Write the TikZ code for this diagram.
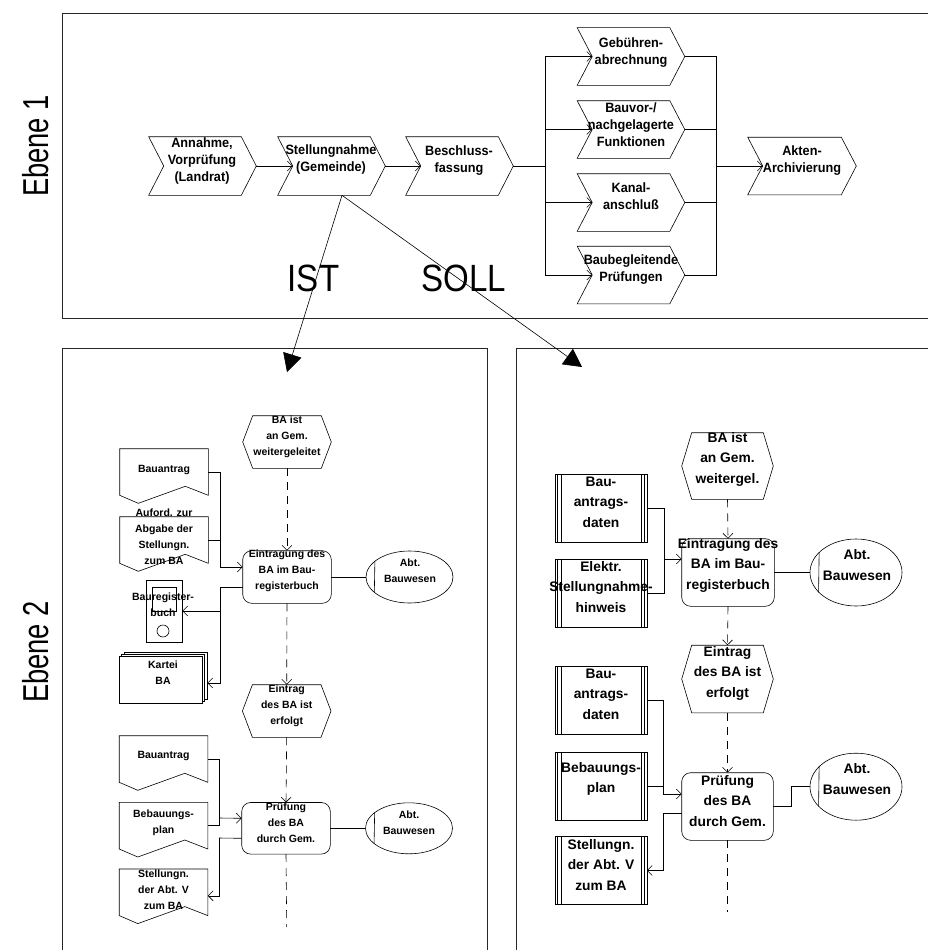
\documentclass[tikz,border=0pt]{standalone}
\usepackage{fontspec}
\setmainfont{Liberation Sans}
\newfontfamily\condfont{Liberation Sans}[FakeStretch=0.94]
\newfontfamily\titlefont{Liberation Sans}[FakeStretch=0.87]
\newfontfamily\levelfont{Liberation Sans}[FakeStretch=0.76]
\usetikzlibrary{arrows.meta,shapes.geometric}

% outlines drawn around empty, fixed-size nodes
\newcommand\drawchev[1]{\draw (#1.north west) -- ([xshift=-15pt]#1.north east) -- (#1.east) -- ([xshift=-15pt]#1.south east) -- (#1.south west) -- ([xshift=15pt]#1.west) -- cycle;}
\newcommand\drawevent[1]{\draw ([xshift=10pt]#1.north west) -- ([xshift=-10pt]#1.north east) -- (#1.east) -- ([xshift=-10pt]#1.south east) -- ([xshift=10pt]#1.south west) -- (#1.west) -- cycle;}
\newcommand\drawdoc[1]{\draw (#1.south west) -- (#1.north west) -- (#1.north east) -- (#1.south east) -- ++(-23,-9) -- ++(-47,17) -- cycle;}
\newcommand\drawstore[1]{\draw (#1.north west) rectangle (#1.south east);
  \foreach \d in {2.5,6}{\draw ([xshift=\d pt]#1.north west) -- ([xshift=\d pt]#1.south west);
    \draw ([xshift=-\d pt]#1.north east) -- ([xshift=-\d pt]#1.south east);}}
\newcommand\drawfunc[1]{\draw[rounded corners=9pt] (#1.north west) rectangle (#1.south east);}
\newcommand\draworg[2]{\draw (#1.center) ellipse [x radius=#2/2, y radius=\csname orgh#1\endcsname/2];}

\begin{document}
\begin{tikzpicture}[x=1pt,y=-1pt,line width=0.6pt,
  shp/.style args={#1x#2}{inner sep=0pt,minimum width=#1pt,minimum height=#2pt},
  ctext/.style={align=center,inner sep=0pt,font=\condfont\bfseries\fontsize{13.5}{17}\selectfont},
  ltext/.style={align=center,inner sep=0pt,font=\bfseries\fontsize{10.5}{16}\selectfont},
  rtext/.style={align=center,inner sep=0pt,font=\bfseries\fontsize{13.8}{20.5}\selectfont},
  orgunit/.style={draw,ellipse,inner sep=0pt},
  conn/.style={-{Straight Barb[length=5pt,width=10pt]}},
  flow/.style={dash pattern=on 8pt off 6pt},
  flowarr/.style={flow,-{Straight Barb[length=5pt,width=10pt]}},
  panel/.style={line width=0.8pt,draw=black!85},
  bigarrow/.style={-{Triangle[length=18pt,width=19pt]}}]

\useasboundingbox (0,0) rectangle (928,950);

% ---------------- panels and level labels ----------------
\draw[panel] (62,13) rectangle (940,318);
\draw[panel] (62,348) rectangle (487,960);
\draw[panel] (516,348) rectangle (940,960);

\node[rotate=90,font=\levelfont\fontsize{36}{40}\selectfont] (lvl1) at (36,146) {Ebene 1};
\node[rotate=90,font=\levelfont\fontsize{36}{40}\selectfont] (lvl2) at (36,652) {Ebene 2};

% ---------------- level 1: process chain ----------------
\node[shp=107x58] (annahme) at (202.5,166) {}; \drawchev{annahme}
\node[shp=107x58] (stell) at (331.5,166) {}; \drawchev{stell}
\node[shp=107x58] (besch) at (459.5,166) {}; \drawchev{besch}
\node[shp=107x57] (geb) at (631,56.5) {}; \drawchev{geb}
\node[shp=107x57] (bauvor) at (631,129.5) {}; \drawchev{bauvor}
\node[shp=107x57] (kanal) at (631,202.5) {}; \drawchev{kanal}
\node[shp=107x57] (baubeg) at (631,275) {}; \drawchev{baubeg}
\node[shp=108x57] (akten) at (802,166) {}; \drawchev{akten}

\node[ctext] (annahme-t) at (202,161) {Annahme,\\Vorprüfung\\(Landrat)};
\node[ctext] (stell-t) at (331,160) {Stellungnahme\\(Gemeinde)};
\node[ctext] (besch-t) at (459,160.5) {Beschluss-\\fassung};
\node[ctext] (geb-t) at (631,52.5) {Gebühren-\\abrechnung};
\node[ctext] (bauvor-t) at (631,125) {Bauvor-/\\nachgelagerte\\Funktionen};
\node[ctext] (kanal-t) at (631,196) {Kanal-\\anschluß};
\node[ctext] (baubeg-t) at (631,269.5) {Baubegleitende\\Prüfungen};
\node[ctext] (akten-t) at (802,160.5) {Akten-\\Archivierung};

\coordinate (busL) at (545,166);
\coordinate (busR) at (716,166);
\draw[conn] (annahme.east) -- ([xshift=15pt]stell.west);
\draw[conn] (stell.east) -- ([xshift=15pt]besch.west);
\draw (besch.east) -- (busL);
\foreach \n in {geb,bauvor,kanal,baubeg}{
  \draw[conn] (busL) |- ([xshift=15pt]\n.west);
  \draw (\n.east) -| (busR);}
\draw[conn] (busR) -- ([xshift=15pt]akten.west);

% IST / SOLL refinements
\coordinate (istEnd) at (287,372);
\coordinate (sollEnd) at (582,367);
\draw[bigarrow] ([xshift=10.5pt]stell.south) -- (istEnd);
\draw[bigarrow] ([xshift=10.5pt]stell.south) -- (sollEnd);
\node[font=\titlefont\fontsize{38}{40}\selectfont] (ist) at (313.5,278.5) {IST};
\node[font=\titlefont\fontsize{38}{40}\selectfont] (soll) at (463.5,278.5) {SOLL};

% ---------------- level 2, IST ----------------
\node[shp=88x52] (e1) at (287,442) {}; \drawevent{e1}
\node[ltext] (e1-t) at (287,437) {BA ist\\an Gem.\\weitergeleitet};

\node[shp=88x52] (f1) at (287,577) {}; \drawfunc{f1}
\node[ltext] (f1-t) at (287,571) {Eintragung des\\BA im Bau-\\registerbuch};

\node[orgunit,shp=87x52] (o1) at (409.5,577) {};
\draw (o1.155.4) -- (o1.204.6);
\node[ltext] (o1-t) at (410,571) {Abt.\\Bauwesen};

\node[shp=88x46] (d1) at (164,472) {}; \drawdoc{d1}
\node[ltext] (d1-t) at (164,470) {Bauantrag};
\node[shp=88x46] (d2) at (164,540) {}; \drawdoc{d2}
\node[ltext] (d2-t) at (164,537) {Auford. zur\\Abgabe der\\Stellungn.\\zum BA};

\node[shp=36x62,draw] (breg) at (164,611) {};
\draw ([shift={(-12,-24)}]breg.center) rectangle ([shift={(12,0)}]breg.center);
\draw ([shift={(-1,20)}]breg.center) circle[radius=6pt];
\node[ltext] (breg-t) at (163,605) {Bauregister-\\buch};

\draw[fill=white] (124,652) rectangle (207,699);
\draw[fill=white] (121.5,654) rectangle (204.5,701);
\node[shp=83x47,draw,fill=white] (kartei) at (160.5,679.5) {};
\node[ltext] (kartei-t) at (163,672.5) {Kartei\\BA};

\node[shp=88x52] (e2) at (286.7,711) {}; \drawevent{e2}
\node[ltext] (e2-t) at (286.7,706) {Eintrag\\des BA ist\\erfolgt};

\node[shp=88x51] (f2) at (286,828.3) {}; \drawfunc{f2}
\node[ltext] (f2-t) at (286,822.5) {Prüfung\\des BA\\durch Gem.};

\node[orgunit,shp=87x51] (o2) at (409,828.3) {};
\draw (o2.155.4) -- (o2.204.6);
\node[ltext] (o2-t) at (409,823) {Abt.\\Bauwesen};

\node[shp=88x46] (d3) at (163.5,759) {}; \drawdoc{d3}
\node[ltext] (d3-t) at (163.5,756) {Bauantrag};
\node[shp=88x46] (d4) at (163.5,825.7) {}; \drawdoc{d4}
\node[ltext] (d4-t) at (163.5,823) {Bebauungs-\\plan};
\node[shp=88x46] (d5) at (163.5,892.3) {}; \drawdoc{d5}
\node[ltext] (d5-t) at (163.5,890) {Stellungn.\\der Abt. V\\zum BA};

% control flow
\coordinate (endL) at (286.7,927);
\draw[flowarr] (e1.south) -- (f1.north);
\draw[flowarr] (f1.south) -- (e2.north);
\draw[flowarr] (e2.south) -- (f2.north);
\draw[flow] (f2.south) -- (endL);

% information flow and organisation
\coordinate (jl1) at (220,567);
\coordinate (jl2) at (220,587);
\coordinate (jl3) at (219,818);
\coordinate (jl4) at (219,838);
\draw (d1.east) -| (jl1);
\draw (d2.east) -| (jl1);
\draw[conn] (jl1) -- ([yshift=10pt]f1.west);
\draw ([yshift=-10pt]f1.west) -- (jl2);
\draw[conn] (jl2) |- (breg.east);
\draw[conn] (jl2) |- ([shift={(5pt,-3.5pt)}]kartei.east);
\draw (f1.east) -- (o1.west);
\draw (d3.east) -| (jl3);
\draw (d4.east) -| (jl3);
\draw[conn] (jl3) -- ([yshift=10pt]f2.west);
\draw ([yshift=-10pt]f2.west) -- (jl4);
\draw[conn] (jl4) |- ([yshift=-3.5pt]d5.east);
\draw (f2.east) -- (o2.west);

% ---------------- level 2, SOLL ----------------
\node[shp=91x66] (e3) at (727.5,466) {}; \drawevent{e3}
\node[rtext] (e3-t) at (727.5,459) {BA ist\\an Gem.\\weitergel.};

\node[shp=92x67] (f3) at (728,572.5) {}; \drawfunc{f3}
\node[rtext] (f3-t) at (728,565) {Eintragung des\\BA im Bau-\\registerbuch};

\node[orgunit,shp=92x67] (o3) at (856,572.5) {};
\draw (o3.151.7) -- (o3.208.3);
\node[rtext] (o3-t) at (857,565) {Abt.\\Bauwesen};

\node[shp=91x67] (s1) at (601,508.5) {}; \drawstore{s1}
\node[rtext] (s1-t) at (601,502) {Bau-\\antrags-\\daten};
\node[shp=91x67] (s2) at (601,593.5) {}; \drawstore{s2}
\node[rtext] (s2-t) at (601,587) {Elektr.\\Stellungnahme-\\hinweis};

\node[shp=91x67] (e4) at (727.5,679) {}; \drawevent{e4}
\node[rtext] (e4-t) at (727.5,673) {Eintrag\\des BA ist\\erfolgt};

\node[shp=91x67] (f4) at (727.5,806.5) {}; \drawfunc{f4}
\node[rtext] (f4-t) at (727.5,801) {Prüfung\\des BA\\durch Gem.};

\node[orgunit,shp=92x67] (o4) at (856,786.7) {};
\draw (o4.151.7) -- (o4.208.3);
\node[rtext] (o4-t) at (857,779) {Abt.\\Bauwesen};

\node[shp=91x67] (s3) at (601,700.5) {}; \drawstore{s3}
\node[rtext] (s3-t) at (601,694) {Bau-\\antrags-\\daten};
\node[shp=91x67] (s4) at (601,786.5) {}; \drawstore{s4}
\node[rtext] (s4-t) at (601,778.7) {Bebauungs-\\plan};
\node[shp=91x67] (s5) at (601,870.5) {}; \drawstore{s5}
\node[rtext] (s5-t) at (601,864.7) {Stellungn.\\der Abt. V\\zum BA};

% control flow
\coordinate (endR) at (727.5,912);
\draw[flowarr] (e3.south) -- (f3.north);
\draw[flowarr] (f3.south) -- (e4.north);
\draw[flowarr] (e4.south) -- (f4.north);
\draw[flow] (f4.south) -- (endR);

% information flow and organisation
\coordinate (jr1) at (664,559);
\coordinate (jr2) at (663,794);
\coordinate (jr3) at (663,813);
\coordinate (jr4) at (791,806.5);
\draw (s1.east) -| (jr1);
\draw (s2.east) -| (jr1);
\draw[conn] (jr1) -- ([yshift=13.5pt]f3.west);
\draw (f3.east) -- (o3.west);
\draw (s3.east) -| (jr2);
\draw (s4.east) -| (jr2);
\draw[conn] (jr2) -- ([yshift=12.5pt]f4.west);
\draw ([yshift=-6.5pt]f4.west) -- (jr3);
\draw[conn] (jr3) |- (s5.east);
\draw (f4.east) -- (jr4) |- (o4.west);

\end{tikzpicture}
\end{document}
